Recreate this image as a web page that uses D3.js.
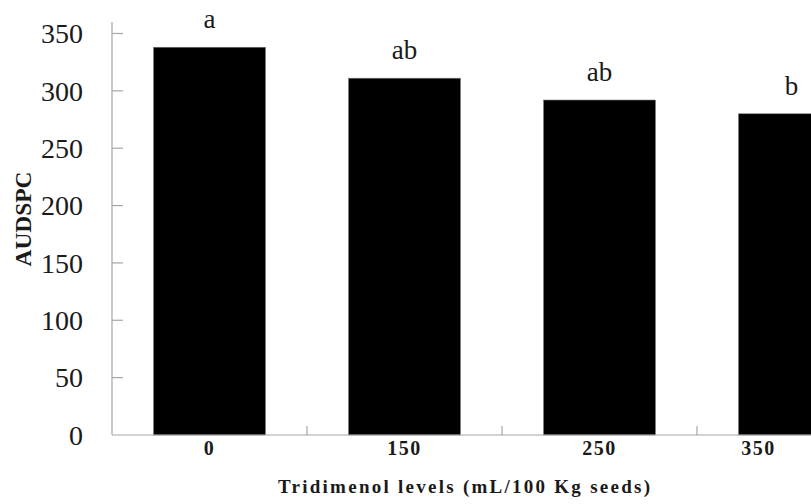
<!DOCTYPE html>
<html>
<head>
<meta charset="utf-8">
<script src="https://cdn.jsdelivr.net/npm/d3@7"></script>
<style>
  body { margin: 0; background: #fff; }
  svg { display: block; }
  svg text { font-family: "Liberation Serif", "Times New Roman", Times, "DejaVu Serif", serif; }
</style>
</head>
<body>
<script>
// Data
const levels = ["0", "150", "250", "350"];
const audspc = [338, 311, 292, 280];
const letters = ["a", "ab", "ab", "b"];
const yTicks = [0, 50, 100, 150, 200, 250, 300, 350];

const W = 811, H = 504;
const axisColor = "#a6a6a6";

const svg = d3.select("body").append("svg")
    .attr("width", W)
    .attr("height", H);

// Scales (plot is cropped on the right, so the range runs past the page)
const x = d3.scaleBand()
    .domain(levels)
    .range([112, 892])
    .paddingInner(0.426)
    .paddingOuter(0.213);

const y = d3.scaleLinear()
    .domain([0, 360])
    .range([435, 22]);

const gap = (x.step() - x.bandwidth()) / 2;

// Bars
svg.selectAll("rect.bar")
    .data(levels)
  .enter().append("rect")
    .attr("class", "bar")
    .attr("x", d => x(d))
    .attr("y", (d, i) => y(audspc[i]))
    .attr("width", x.bandwidth())
    .attr("height", (d, i) => y(0) - y(audspc[i]))
    .attr("fill", "#000")
    .attr("stroke", "#7a7a7a")
    .attr("stroke-width", 0.6);

// Y axis: line, inward ticks, labels
const yAxis = svg.append("g");
yAxis.append("line")
    .attr("x1", x.range()[0]).attr("x2", x.range()[0])
    .attr("y1", y.range()[1]).attr("y2", y(0))
    .attr("stroke", axisColor)
    .attr("stroke-width", 1.2);
yAxis.selectAll("line.tick")
    .data(yTicks.slice(1))
  .enter().append("line")
    .attr("class", "tick")
    .attr("x1", x.range()[0]).attr("x2", x.range()[0] + 11)
    .attr("y1", d => y(d)).attr("y2", d => y(d))
    .attr("stroke", axisColor)
    .attr("stroke-width", 1.2);
yAxis.selectAll("text")
    .data(yTicks)
  .enter().append("text")
    .attr("x", 83)
    .attr("y", d => y(d))
    .attr("dy", "0.35em")
    .attr("text-anchor", "end")
    .style("font-size", "28px")
    .attr("fill", "#1a1a1a")
    .text(d => d);

// X axis: line, inward ticks between bars, bold labels
const xAxis = svg.append("g");
xAxis.append("line")
    .attr("x1", x.range()[0]).attr("x2", W)
    .attr("y1", y(0)).attr("y2", y(0))
    .attr("stroke", axisColor)
    .attr("stroke-width", 1.2);
xAxis.selectAll("line.tick")
    .data(levels.slice(1))
  .enter().append("line")
    .attr("class", "tick")
    .attr("x1", d => x(d) - gap).attr("x2", d => x(d) - gap)
    .attr("y1", y(0)).attr("y2", y(0) - 9)
    .attr("stroke", axisColor)
    .attr("stroke-width", 1.2);
xAxis.selectAll("text")
    .data(levels)
  .enter().append("text")
    .attr("x", (d, i) => x(d) + x.bandwidth() / 2 + (i === levels.length - 1 ? -36 : 0))
    .attr("y", 455)
    .attr("text-anchor", "middle")
    .style("font-size", "20px")
    .style("font-weight", "bold")
    .style("letter-spacing", "1.5px")
    .attr("fill", "#1a1a1a")
    .text(d => d);

// Significance letters above bars
svg.selectAll("text.letter")
    .data(levels)
  .enter().append("text")
    .attr("class", "letter")
    .attr("x", (d, i) => x(d) + x.bandwidth() / 2 + (i === levels.length - 1 ? -3 : 0))
    .attr("y", (d, i) => y(audspc[i]) - 19)
    .attr("text-anchor", "middle")
    .style("font-size", "27px")
    .attr("fill", "#1a1a1a")
    .text((d, i) => letters[i]);

// Axis titles
svg.append("text")
    .attr("x", 464)
    .attr("y", 493)
    .attr("text-anchor", "middle")
    .attr("textLength", 372)
    .attr("lengthAdjust", "spacing")
    .style("font-size", "19px")
    .style("font-weight", "bold")
    .attr("fill", "#1a1a1a")
    .text("Tridimenol levels (mL/100 Kg seeds)");

svg.append("text")
    .attr("transform", "translate(31,219) rotate(-90)")
    .attr("text-anchor", "middle")
    .attr("textLength", 95)
    .attr("lengthAdjust", "spacingAndGlyphs")
    .style("font-size", "24px")
    .style("font-weight", "bold")
    .attr("fill", "#1a1a1a")
    .text("AUDSPC");
</script>
</body>
</html>
